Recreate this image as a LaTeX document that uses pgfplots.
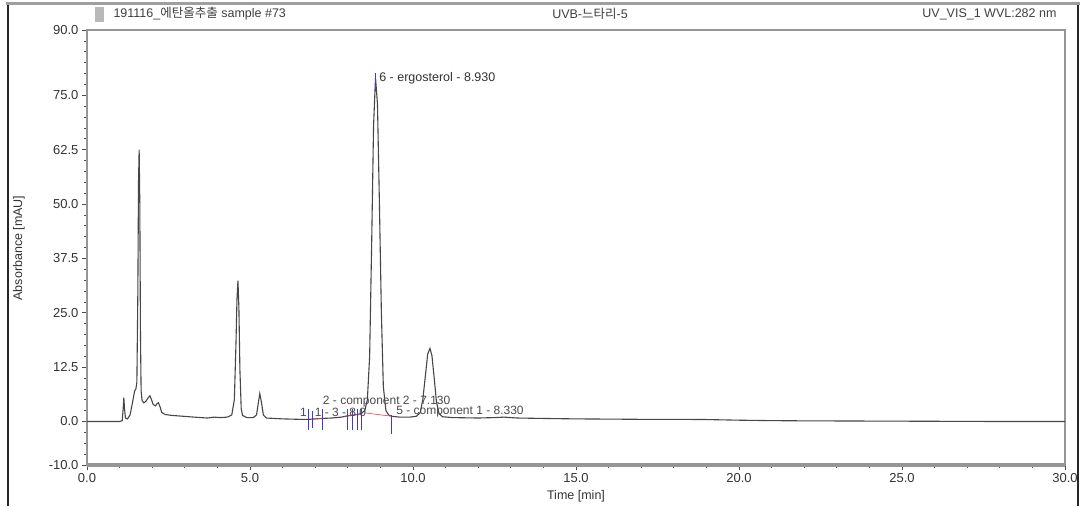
\documentclass[border=0pt]{standalone}
\usepackage{pgfplots}
\pgfplotsset{compat=1.18}
\usepackage{fontspec}
\setmainfont{Liberation Sans}
\newfontfamily\kr{Noto Sans CJK KR}
\definecolor{frame}{RGB}{150,150,150}
\definecolor{sig}{RGB}{70,70,70}
\definecolor{mk}{RGB}{60,60,200}
\begin{document}
\begin{tikzpicture}[x=1pt,y=1pt]
\useasboundingbox (0,0) rectangle (1083,506);
\fill[white] (0,0) rectangle (1083,506);
\draw[black!85, line width=1.5pt] (8,0) -- (8,502);
\draw[black!85, line width=1.5pt] (1078,0) -- (1078,502);
\draw[gray!75, line width=3pt] (6,502) -- (1080,502);
\begin{axis}[
  at={(87pt,41pt)}, anchor=south west,
  scale only axis, width=978pt, height=435pt,
  xmin=0, xmax=30, ymin=-10, ymax=90,
  xtick={0,5,...,30}, minor xtick={0,1,...,30},
  ytick={-10,0,12.5,25,37.5,50,62.5,75,90},
  minor ytick={-10,-7.5,...,90},
  tick align=outside, tickpos=left,
  major tick length=5pt, minor tick length=3pt,
  every tick/.style={black!70, line width=0.7pt},
  axis line style={frame, line width=1.4pt},
  ticklabel style={font=\fontsize{13}{15}\selectfont, text=black!80},
  /pgf/number format/.cd, fixed, fixed zerofill, precision=1, assume math mode=true,
  /pgfplots/.cd,
  xlabel={Time [min]},
  label style={font=\fontsize{12.5}{14}\selectfont, text=black!80},
  xlabel style={at={(axis description cs:0.5,0)}, anchor=center, yshift=-31pt},
  clip=false,
]
\draw[frame, line width=3.5pt] (rel axis cs:0,0) -- (rel axis cs:1,0);
% chromatogram
\addplot[sig, line width=1.1pt] coordinates {
(0,0) (1.0,0) (1.08,0.2) (1.11,3) (1.13,5.5) (1.15,3) (1.18,0.8) (1.24,0.6)
(1.32,1.5) (1.40,4.5) (1.46,7) (1.50,7.5) (1.53,9) (1.56,30) (1.58,55) (1.60,62.5)
(1.62,50) (1.64,20) (1.66,7) (1.69,4.8) (1.74,4.3) (1.80,4.6) (1.88,5.5) (1.93,5.9)
(1.98,5.0) (2.03,3.9) (2.10,3.6) (2.15,4.1) (2.19,4.3) (2.24,3.4) (2.29,2.1) (2.40,1.6)
(2.60,1.4) (2.95,1.2) (3.3,1.0) (3.68,0.8) (3.9,1.0) (4.1,0.9) (4.3,1.0) (4.44,1.5)
(4.52,5) (4.57,18) (4.60,28) (4.63,32.4) (4.66,26) (4.69,12) (4.73,3) (4.77,1.4)
(4.90,0.9) (5.10,0.9) (5.20,1.5) (5.25,4) (5.30,6.4) (5.35,4.5) (5.41,1.5) (5.5,0.8)
(6.0,0.6) (6.5,0.5) (6.8,0.5) (7.0,0.6) (7.2,0.7) (7.5,0.8) (7.8,1.0) (8.0,1.3)
(8.2,1.5) (8.4,1.8) (8.52,2.5) (8.60,5) (8.67,15) (8.73,40) (8.79,68) (8.85,79)
(8.91,73) (8.97,50) (9.03,25) (9.09,8) (9.17,2.5) (9.25,1.5) (9.35,1.2) (9.6,1.0)
(9.9,1.0) (10.1,1.2) (10.22,2) (10.3,5) (10.38,10.5) (10.45,15.5) (10.52,16.8) (10.58,15.2)
(10.65,10) (10.72,4.5) (10.80,1.8) (10.9,1.1) (11.2,0.9) (12.0,0.8) (12.5,0.9) (12.8,1.0)
(13.2,0.8) (14,0.7) (15,0.6) (16,0.55) (17,0.5) (18,0.5) (19,0.45) (20,0.3)
(21,0.2) (22,0.15) (24,0.1) (26,0.05) (28,0) (30,0)
};
% integration baselines
\addplot[red!75, line width=0.6pt] coordinates {(6.85,0.5) (7.25,0.7)};
\addplot[red!75, line width=0.6pt] coordinates {(7.9,1.2) (8.45,1.8)};
\addplot[red!75, line width=0.6pt] coordinates {(8.5,2.0) (9.35,1.2)};
% peak delimiters
\addplot[ycomb, mk, line width=0.8pt] coordinates {(6.78,2.8) (6.92,2.5) (7.22,2.8) (8.0,2.8) (8.13,2.8) (8.28,2.8) (8.43,2.8) (9.35,1.5)};
\addplot[ycomb, mk, line width=0.8pt] coordinates {(6.78,-2) (6.92,-1.5) (7.22,-2) (8.0,-2) (8.13,-2) (8.28,-2) (8.43,-2) (9.35,-2.8)};
\addplot[mk, line width=0.8pt] coordinates {(8.86,76.5) (8.86,80)};
% labels
\node[anchor=west, font=\fontsize{12.5}{14}\selectfont, text=black!80, inner sep=1pt] at (axis cs:8.93,79) {6 - ergosterol - 8.930};
\node[anchor=west, font=\fontsize{12}{14}\selectfont, text=black!70, inner sep=1pt] at (axis cs:7.2,4.6) {2 - component 2 - 7.130};
\node[anchor=west, font=\fontsize{12}{14}\selectfont, text=black!70, inner sep=1pt] at (axis cs:6.95,2.2) {1 - 3 - 8.0};
\node[anchor=west, font=\fontsize{12}{14}\selectfont, text=black!70, inner sep=1pt] at (axis cs:9.45,2.2) {5 - component 1 - 8.330};
\node[anchor=west, font=\fontsize{12}{14}\selectfont, text=mk, inner sep=1pt] at (axis cs:6.5,2.0) {1};
\end{axis}
\node[rotate=90, font=\fontsize{12.5}{14}\selectfont, text=black!80] at (19,258) {Absorbance [mAU]};
\fill[gray!55] (95,484) rectangle (104,499);
\node[anchor=west, font=\fontsize{12.5}{14}\selectfont, text=black!75] at (110,492) {191116\_{\kr 에탄올추출} sample \#73};
\node[font=\fontsize{12.5}{14}\selectfont, text=black!75] at (590,492) {UVB-{\kr 느타리}-5};
\node[anchor=east, font=\fontsize{12.5}{14}\selectfont, text=black!75] at (1060,492) {UV\_VIS\_1 WVL:282 nm};
\end{tikzpicture}
\end{document}
